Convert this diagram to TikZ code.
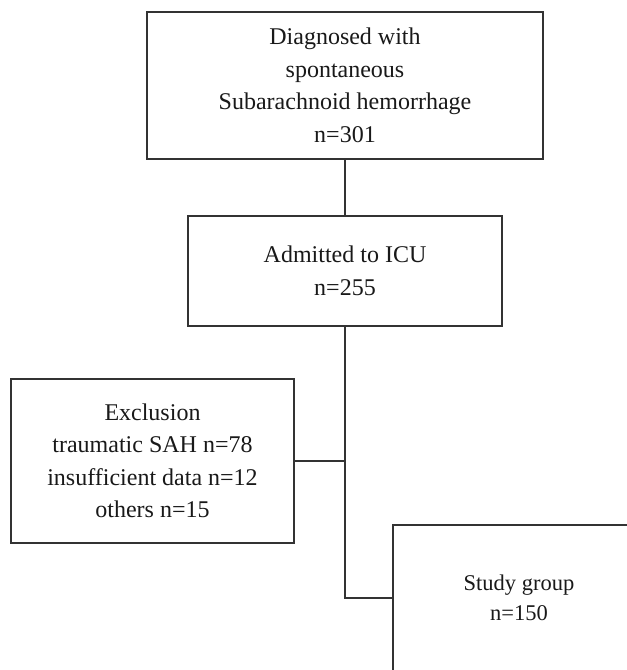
\documentclass[tikz,border=0pt]{standalone}
\usepackage{fontspec}
\setmainfont{Liberation Serif}
\begin{document}
\begin{tikzpicture}[x=1pt,y=-1pt,
  box/.style={draw=black!80, line width=1.5pt, inner sep=0pt, align=center,
    font=\fontsize{24}{32.5}\selectfont, text=black!90},
  link/.style={draw=black!80, line width=1.5pt}]
\clip (0,0) rectangle (627,670);
\fill[white] (0,0) rectangle (627,670);
\node[box, minimum width=396pt, minimum height=147pt] (diag) at (345,85.5)
  {Diagnosed with\\spontaneous\\Subarachnoid hemorrhage\\n=301};
\node[box, minimum width=314pt, minimum height=110pt] (adm) at (345,271)
  {Admitted to ICU\\n=255};
\node[box, minimum width=283pt, minimum height=164pt] (excl) at (152.5,461)
  {Exclusion\\traumatic SAH n=78\\insufficient data n=12\\others n=15};
\node[box, minimum width=252pt, minimum height=146pt, font=\fontsize{22.5}{30}\selectfont] (study) at (519,598)
  {Study group\\n=150};
\draw[link] (diag.south) -- (adm.north);
\draw[link] (adm.south) |- (study.west);
\draw[link] (excl.east) -- (excl.east -| adm.south);
\end{tikzpicture}
\end{document}
